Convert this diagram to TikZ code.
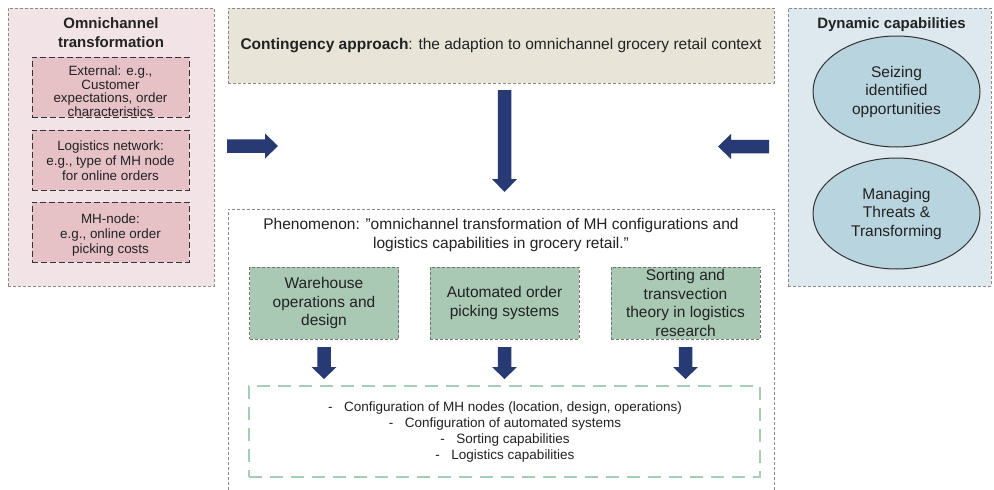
\documentclass[tikz,border=0pt]{standalone}
\usepackage{fontspec}
\setmainfont{Liberation Sans}
\usetikzlibrary{shapes.geometric}
\definecolor{pinkbg}{HTML}{F2E4E6}
\definecolor{pinkin}{HTML}{E6C2C7}
\definecolor{beige}{HTML}{E8E5D8}
\definecolor{bluebg}{HTML}{DDE9EE}
\definecolor{ellfill}{HTML}{B8D4DE}
\definecolor{greenf}{HTML}{A9C9B5}
\definecolor{greenline}{HTML}{A8CDB6}
\definecolor{navy}{HTML}{283A73}
\definecolor{grayline}{HTML}{8A8A8A}
\definecolor{txt}{HTML}{222222}
\newcommand\myfs[2]{\fontsize{#1}{#2}\selectfont}
\begin{document}
\begin{tikzpicture}[x=1pt,y=-1pt,
  every node/.style={text=txt, inner sep=0pt, align=center},
  outerbox/.style={rectangle, draw=grayline, line width=0.8pt, dash pattern=on 3pt off 2pt},
  pinkbox/.style={rectangle, fill=pinkin, draw=black!80, line width=1pt, dash pattern=on 6pt off 3pt,
     minimum width=157pt, minimum height=60pt},
  pinktext/.style={font=\myfs{13.4}{14.8}},
  greenbox/.style={rectangle, fill=greenf, draw=black!55, line width=0.9pt, dash pattern=on 3pt off 2pt,
     minimum width=149pt, minimum height=72pt, font=\myfs{15.5}{18.8}},
  ellnode/.style={ellipse, fill=ellfill, draw=black!80, line width=1pt,
     minimum width=167pt, minimum height=111pt, font=\myfs{15.5}{18.5}},
  titletext/.style={font=\bfseries\myfs{15}{19}},
  pics/blockarrow/.style n args={2}{code={
     \fill[navy] (0,-6.75) -- (#1-#2,-6.75) -- (#1-#2,-12.5) -- (#1,0) -- (#1-#2,12.5) -- (#1-#2,6.75) -- (0,6.75) -- cycle;}}
]
\useasboundingbox (0,0) rectangle (994,490);
\clip (0,0) rectangle (994,490);

% left panel
\node[outerbox, fill=pinkbg, minimum width=206pt, minimum height=278pt] (omni) at (111,147) {};
\node[titletext] (omnititle) at (111,33) {Omnichannel\\transformation};
\node[pinkbox] (ext) at (110.5,87) {};
\node[pinktext, font=\myfs{13.4}{13.5}] (exttext) at (110.5,91) {External: e.g.,\\Customer\\expectations, order\\characteristics};
\node[pinkbox] (lognet) at (110.5,160) {};
\node[pinktext] (lognettext) at (110.5,161) {Logistics network:\\e.g., type of MH node\\for online orders};
\node[pinkbox] (mhnode) at (110.5,232) {};
\node[pinktext] (mhnodetext) at (110.5,235) {MH-node:\\e.g., online order\\picking costs};

% contingency
\node[outerbox, fill=beige, minimum width=546pt, minimum height=75pt, font=\myfs{15.5}{19}] (cont) at (501,45.5)
  {\textbf{Contingency approach}: the adaption to omnichannel grocery retail context};

% right panel
\node[outerbox, fill=bluebg, minimum width=203pt, minimum height=278pt] (dyn) at (889.5,147) {};
\node[titletext] (dyntitle) at (891.5,25) {Dynamic capabilities};
\node[ellnode] (seize) at (896.5,91.5) {Seizing\\identified\\opportunities};
\node[ellnode] (manage) at (896.5,213.5) {Managing\\Threats \&\\Transforming};

% phenomenon
\node[outerbox, fill=white, minimum width=546pt, minimum height=290pt] (phen) at (501,354) {};
\node[font=\myfs{15.5}{19}] (phentitle) at (501,235) {Phenomenon: "omnichannel transformation of MH configurations and\\logistics capabilities in grocery retail."};
\node[greenbox] (wh) at (324,303) {Warehouse\\operations and\\design};
\node[greenbox] (auto) at (504.5,303) {Automated order\\picking systems};
\node[greenbox] (sort) at (685.5,303) {Sorting and\\transvection\\theory in logistics\\research};
\node[rectangle, draw=greenline, line width=2.6pt, dash pattern=on 13pt off 8pt,
      minimum width=511pt, minimum height=91pt] (out) at (504.5,431.5) {};
\node[font=\myfs{13.5}{16}] (outtext) at (505,432) {%
  -\hspace{11.5pt}Configuration of MH nodes (location, design, operations)\\
  -\hspace{11.5pt}Configuration of automated systems\\
  -\hspace{11.5pt}Sorting capabilities\\
  -\hspace{11.5pt}Logistics capabilities};

% block arrows
\pic[rotate=-90] at (504.5,90) {blockarrow={102}{13}};
\pic at (227,146) {blockarrow={51}{13}};
\pic[rotate=180] at (769,146.5) {blockarrow={51}{13}};
\pic[rotate=-90] at (324,347) {blockarrow={32}{12}};
\pic[rotate=-90] at (504.5,347) {blockarrow={32}{12}};
\pic[rotate=-90] at (685.5,347) {blockarrow={32}{12}};
\end{tikzpicture}
\end{document}
